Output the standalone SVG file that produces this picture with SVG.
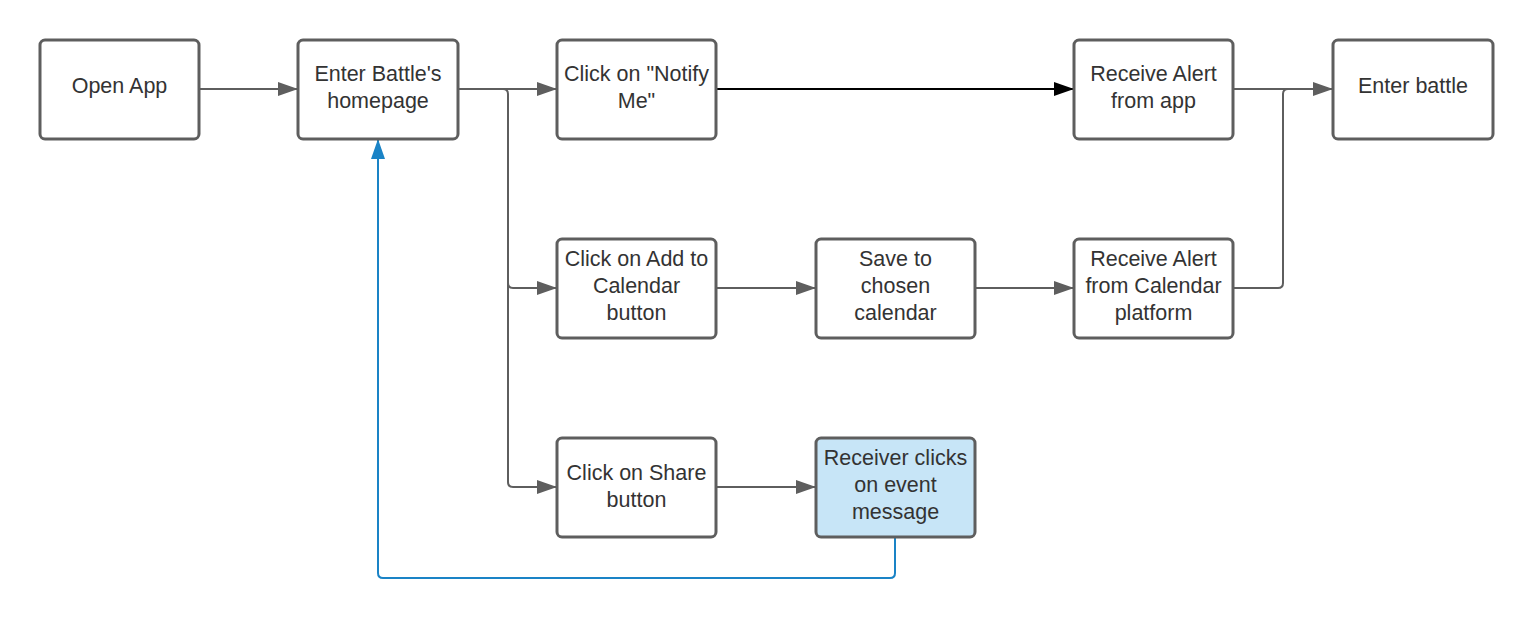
<svg xmlns="http://www.w3.org/2000/svg" width="1532" height="619" viewBox="0 0 1532 619">
<style>
.n rect{fill:#fff;stroke:#5e5e5e;stroke-width:3}
.n.b rect{fill:#c7e5f7}
.n text{font-family:"Liberation Sans",Arial,sans-serif;font-size:21.5px;fill:#333;text-anchor:middle}
.c path{fill:none;stroke:#5e5e5e;stroke-width:2}
.c path.k{stroke:#000}
.c path.u{stroke:#1a83c6}
</style>
<defs>
<marker id="ag" markerWidth="20" markerHeight="14" refX="19" refY="7" orient="auto" markerUnits="userSpaceOnUse"><path d="M0,0 L20,7 L0,14 Z" fill="#5e5e5e"/></marker>
<marker id="ak" markerWidth="20" markerHeight="14" refX="19" refY="7" orient="auto" markerUnits="userSpaceOnUse"><path d="M0,0 L20,7 L0,14 Z" fill="#000"/></marker>
<marker id="ab" markerWidth="20" markerHeight="14" refX="19" refY="7" orient="auto" markerUnits="userSpaceOnUse"><path d="M0,0 L20,7 L0,14 Z" fill="#1a83c6"/></marker>
</defs>
<rect width="1532" height="619" fill="#fff"/>
<g id="connectors" class="c">
<path d="M200,89 H297" marker-end="url(#ag)"/>
<path d="M459,89 H556" marker-end="url(#ag)"/>
<path d="M459,89 H503 Q508,89 508,94 V283 Q508,288 513,288 H556" marker-end="url(#ag)"/>
<path d="M508,280 V482 Q508,487 513,487 H556" marker-end="url(#ag)"/>
<path class="k" d="M717,89 H1073" marker-end="url(#ak)"/>
<path d="M1234,89 H1332" marker-end="url(#ag)"/>
<path d="M1234,288 H1278 Q1283,288 1283,283 V94 Q1283,89 1288,89 H1300"/>
<path d="M717,288 H815" marker-end="url(#ag)"/>
<path d="M976,288 H1073" marker-end="url(#ag)"/>
<path d="M717,487 H815" marker-end="url(#ag)"/>
<path class="u" d="M895,538 V573 Q895,578 890,578 H383 Q378,578 378,573 V140" marker-end="url(#ab)"/>
</g>
<g id="n1" class="n"><rect x="40" y="40" width="159" height="99" rx="5"/><text x="119.5" y="93">Open App</text></g>
<g id="n2" class="n"><rect x="298" y="40" width="160" height="99" rx="5"/><text x="378" y="81">Enter Battle's</text><text x="378" y="108">homepage</text></g>
<g id="n3" class="n"><rect x="557" y="40" width="159" height="99" rx="5"/><text x="636.5" y="81">Click on "Notify</text><text x="636.5" y="108">Me"</text></g>
<g id="n4" class="n"><rect x="1074" y="40" width="159" height="99" rx="5"/><text x="1153.5" y="81">Receive Alert</text><text x="1153.5" y="108">from app</text></g>
<g id="n5" class="n"><rect x="1333" y="40" width="160" height="99" rx="5"/><text x="1413" y="93">Enter battle</text></g>
<g id="n6" class="n"><rect x="557" y="239" width="159" height="99" rx="5"/><text x="636.5" y="266">Click on Add to</text><text x="636.5" y="293">Calendar</text><text x="636.5" y="320">button</text></g>
<g id="n7" class="n"><rect x="816" y="239" width="159" height="99" rx="5"/><text x="895.5" y="266">Save to</text><text x="895.5" y="293">chosen</text><text x="895.5" y="320">calendar</text></g>
<g id="n8" class="n"><rect x="1074" y="239" width="159" height="99" rx="5"/><text x="1153.5" y="266">Receive Alert</text><text x="1153.5" y="293">from Calendar</text><text x="1153.5" y="320">platform</text></g>
<g id="n9" class="n"><rect x="557" y="438" width="159" height="99" rx="5"/><text x="636.5" y="480">Click on Share</text><text x="636.5" y="507">button</text></g>
<g id="n10" class="n b"><rect x="816" y="438" width="159" height="99" rx="5"/><text x="895.5" y="465">Receiver clicks</text><text x="895.5" y="492">on event</text><text x="895.5" y="519">message</text></g>
</svg>
